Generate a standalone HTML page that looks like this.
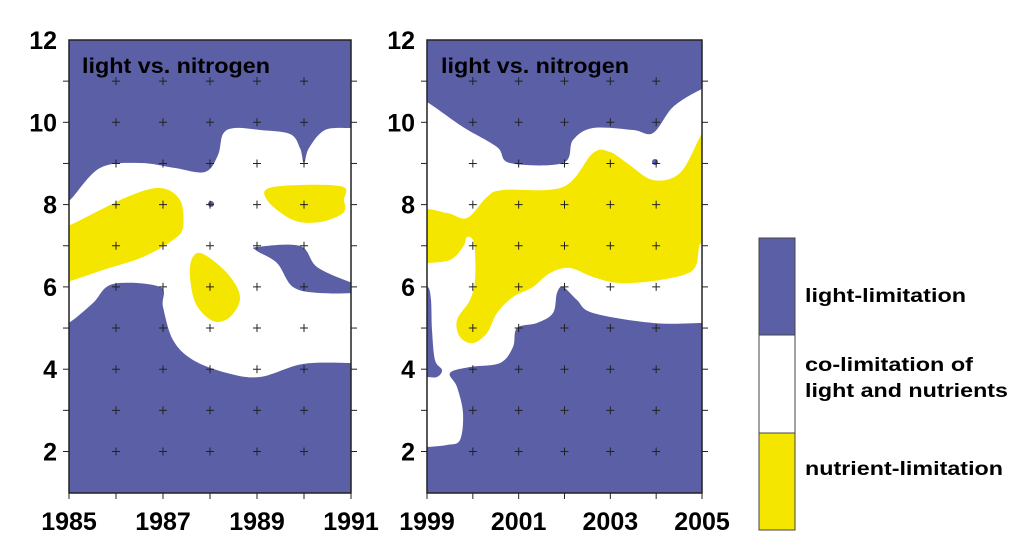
<!DOCTYPE html>
<html><head><meta charset="utf-8"><style>
body{margin:0;background:#fff;}
svg{display:block;font-family:"Liberation Sans",Arial,sans-serif;font-weight:bold;}
</style></head><body>
<svg id="s" width="1024" height="560" viewBox="0 0 1024 560">
<defs>
<clipPath id="c1"><rect x="69" y="40" width="282" height="453"/></clipPath>
<clipPath id="c2"><rect x="427" y="40" width="275" height="453"/></clipPath>
</defs>
<g clip-path="url(#c1)">
<rect x="69" y="40" width="282" height="453" fill="#5a5fa6"/>
<path id="w1" fill="#fff"/>
<path id="b1" fill="#5a5fa6"/>
<circle cx="211" cy="204" r="3" fill="#5a5fa6"/>
<path id="y1a" fill="#f5e600"/>
<path id="y1b" fill="#f5e600"/>
<path id="y1c" fill="#f5e600"/>
</g>
<g clip-path="url(#c2)">
<rect x="427" y="40" width="275" height="453" fill="#5a5fa6"/>
<path id="w2" fill="#fff"/>
<path id="b2" fill="#5a5fa6"/>
<path id="y2" fill="#f5e600"/>
<circle cx="655" cy="162" r="3" fill="#5a5fa6"/>
</g>
<g id="grid" stroke="#222" stroke-width="1" fill="none"></g>
<rect x="69" y="40" width="282" height="453" fill="none" stroke="#222" stroke-width="1.5"/>
<rect x="427" y="40" width="275" height="453" fill="none" stroke="#222" stroke-width="1.5"/>
<text x="82" y="73" font-size="21" textLength="188" lengthAdjust="spacingAndGlyphs">light vs. nitrogen</text>
<text x="441" y="73" font-size="21" textLength="188" lengthAdjust="spacingAndGlyphs">light vs. nitrogen</text>
<g id="labels" font-size="25"></g>
<rect x="759" y="238" width="36" height="97" fill="#5a5fa6" stroke="#444" stroke-width="1"/>
<rect x="759" y="335" width="36" height="98" fill="#fff" stroke="#444" stroke-width="1"/>
<rect x="759" y="433" width="36" height="97" fill="#f5e600" stroke="#444" stroke-width="1"/>
<g font-size="19.5">
<text x="805" y="302" textLength="161" lengthAdjust="spacingAndGlyphs">light-limitation</text>
<text x="805" y="371" textLength="168" lengthAdjust="spacingAndGlyphs">co-limitation of</text>
<text x="805" y="397" textLength="203" lengthAdjust="spacingAndGlyphs">light and nutrients</text>
<text x="805" y="475" textLength="198" lengthAdjust="spacingAndGlyphs">nutrient-limitation</text>
</g>
</svg>
<script>
function cr(p){var d="M"+p[0][0]+","+p[0][1];var n=p.length;
for(var i=0;i<n;i++){var p0=p[(i-1+n)%n],p1=p[i],p2=p[(i+1)%n],p3=p[(i+2)%n];
d+="C"+(p1[0]+(p2[0]-p0[0])/6)+","+(p1[1]+(p2[1]-p0[1])/6)+" "+(p2[0]-(p3[0]-p1[0])/6)+","+(p2[1]-(p3[1]-p1[1])/6)+" "+p2[0]+","+p2[1];}
return d+"Z";}
function S(id,p){document.getElementById(id).setAttribute("d",cr(p));}
S("w1",[[60,203],[70,200],[100,168],[140,163],[175,168],[205,172],[218,155],[223,134],[235,128],[260,130],[290,134],[300,148],[304,163],[309,148],[325,130],[351,128],[360,128],[360,363],[350,363],[303,364],[260,377],[227,373],[193,360],[173,340],[163,307],[160,287],[113,284],[93,303],[70,322],[60,322]]);
S("b1",[[257,247],[300,246],[317,267],[350,282],[360,283],[360,292],[320,293],[293,287],[277,263],[257,251]]);
S("y1a",[[60,225],[70,225],[127,197],[160,188],[180,200],[183,227],[173,240],[143,257],[103,270],[70,281],[60,282]]);
S("y1b",[[200,253],[227,273],[240,297],[230,317],[213,321],[195,302],[190,267]]);
S("y1c",[[273,187],[340,186],[344,200],[343,213],[320,222],[293,220],[267,200]]);
S("w2",[[420,102],[427,102],[463,127],[497,147],[510,163],[563,163],[573,140],[593,128],[633,130],[653,133],[673,107],[700,90],[710,89],[710,323],[702,323],[653,323],[593,313],[577,300],[563,287],[557,293],[553,313],[537,323],[517,328],[513,347],[500,363],[470,367],[450,373],[457,387],[463,413],[460,440],[447,445],[427,447],[420,447]]);
S("b2",[[420,287],[428,287],[431,300],[432,330],[435,360],[442,370],[437,377],[427,377],[420,377]]);
S("y2",[[420,213],[447,213],[467,218],[487,197],[503,190],[563,187],[593,153],[610,152],[627,163],[653,180],[680,173],[700,137],[710,120],[710,245],[700,244],[693,270],[660,280],[620,283],[593,277],[570,268],[550,273],[533,287],[513,297],[497,313],[487,333],[473,343],[460,337],[457,320],[470,300],[475,280],[475,253],[473,240],[467,237],[463,247],[450,260],[427,263],[420,263]]);
var g=document.getElementById("grid"),L=document.getElementById("labels"),h="";
function Y(v){return 40+(12-v)*41.15;}
var panels=[[69,351,1985],[427,702,1999]];
panels.forEach(function(P){var x0=P[0],x1=P[1],dx=(x1-x0)/6;
for(var v=2;v<=11;v++){var y=Y(v);h+="<line x1='"+(x0-6)+"' y1='"+y+"' x2='"+x0+"' y2='"+y+"'/><line x1='"+x1+"' y1='"+y+"' x2='"+(x1+6)+"' y2='"+y+"'/>";
for(var k=1;k<=5;k++){var x=x0+k*dx;h+="<path d='M"+(x-4)+","+y+"h8M"+x+","+(y-4)+"v8'/>";}}
for(var k=0;k<=6;k++){var x=x0+k*dx;h+="<line x1='"+x+"' y1='493' x2='"+x+"' y2='499'/>";}
var s="";for(var v=2;v<=12;v+=2){s+="<text x='"+(x0-12)+"' y='"+(Y(v)+9)+"' text-anchor='end'>"+v+"</text>";}
for(var k=0;k<=6;k+=2){s+="<text x='"+(x0+k*dx)+"' y='530' text-anchor='middle'>"+(P[2]+k)+"</text>";}
L.innerHTML+=s;});
g.innerHTML=h;
</script>
</body></html>
